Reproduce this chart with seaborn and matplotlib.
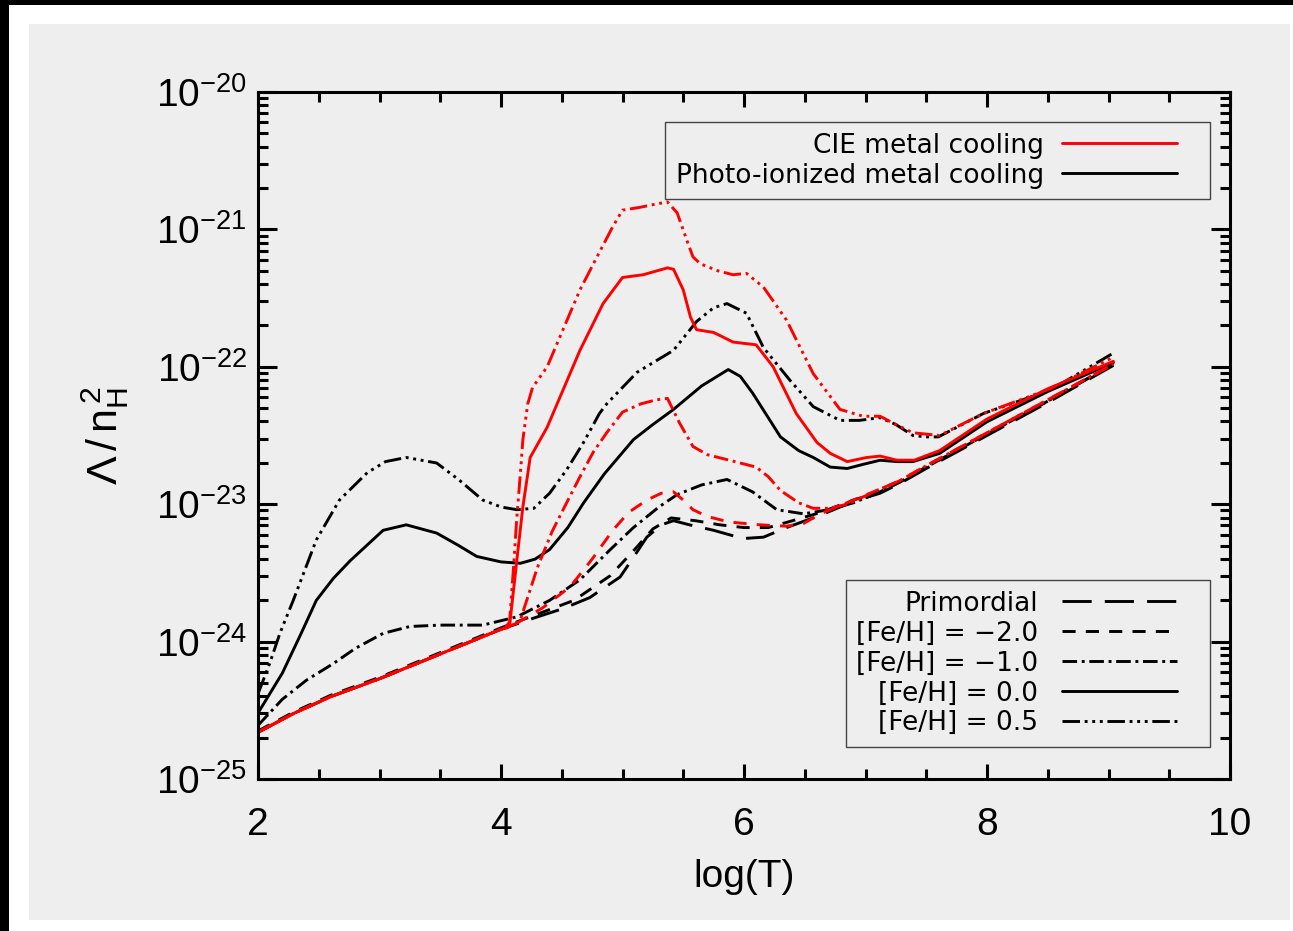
import numpy as np
import pandas as pd
import matplotlib
matplotlib.use("Agg")
import matplotlib.pyplot as plt
import seaborn as sns
from matplotlib.lines import Line2D
from matplotlib.patches import Rectangle
from matplotlib.legend_handler import HandlerLine2D
from matplotlib.ticker import LogLocator, MultipleLocator, NullFormatter, FixedLocator

# ---------------- data (log10 T, log10 Lambda/nH^2) ----------------
base_x = [2.0, 2.3, 2.6, 3.0, 3.5, 4.0]
base_y = [-24.66, -24.52, -24.40, -24.27, -24.09, -23.91]

tail_x = [7.5, 8.0, 8.5, 9.04]
tail_y = [-22.74, -22.50, -22.26, -21.99]

prim_x = base_x + [4.3, 4.51, 4.73, 4.98, 5.08, 5.20, 5.32, 5.42, 5.55, 5.75, 5.99, 6.16, 6.35, 6.63, 6.9, 7.12, 7.28] + tail_x
prim_y = base_y + [-23.82, -23.76, -23.68, -23.53, -23.40, -23.24, -23.15, -23.12, -23.15, -23.19, -23.25, -23.24, -23.17, -23.08, -22.98, -22.92, -22.85] + tail_y

pi_m20_x = base_x + [4.3, 4.6, 4.9, 5.1, 5.25, 5.4, 5.6, 5.8, 6.0, 6.2, 6.4, 6.63, 6.9, 7.12, 7.28] + tail_x
pi_m20_y = [v + 0.01 for v in base_y] + [-23.80, -23.70, -23.52, -23.33, -23.18, -23.10, -23.12, -23.15, -23.17, -23.17, -23.12, -23.06, -22.97, -22.91, -22.84] + [-22.73, -22.49, -22.25, -21.98]

cie_m20_x = base_x + [4.1, 4.18, 4.35, 4.57, 4.75, 4.92, 5.05, 5.20, 5.32, 5.42, 5.5, 5.58, 5.7, 5.88, 6.13, 6.35, 6.49, 6.63, 6.9, 7.12, 7.28] + tail_x
cie_m20_y = base_y + [-23.88, -23.84, -23.75, -23.60, -23.40, -23.19, -23.06, -22.97, -22.92, -22.91, -22.97, -23.04, -23.09, -23.13, -23.15, -23.16, -23.14, -23.07, -22.97, -22.89, -22.83] + [-22.72, -22.48, -22.24, -21.98]

pi_m10_x = [2.0, 2.2, 2.4, 2.62, 2.8, 3.03, 3.25, 3.5, 3.85, 4.13, 4.4, 4.65, 4.9, 5.09, 5.3, 5.45, 5.65, 5.86, 6.07, 6.27, 6.49, 6.7, 6.9, 7.12, 7.28] + tail_x
pi_m10_y = [-24.61, -24.42, -24.28, -24.16, -24.05, -23.94, -23.89, -23.88, -23.88, -23.82, -23.70, -23.55, -23.33, -23.17, -23.02, -22.93, -22.86, -22.82, -22.91, -23.04, -23.07, -23.04, -22.99, -22.91, -22.84] + [-22.73, -22.49, -22.25, -21.98]

cie_m10_x = base_x + [4.12, 4.16, 4.23, 4.30, 4.42, 4.54, 4.65, 4.76, 4.87, 5.0, 5.15, 5.28, 5.37, 5.47, 5.58, 5.7, 5.88, 6.1, 6.2, 6.30, 6.45, 6.57, 6.7, 6.85, 7.12, 7.28] + tail_x
cie_m10_y = base_y + [-23.87, -23.84, -23.65, -23.46, -23.20, -22.99, -22.80, -22.62, -22.48, -22.33, -22.27, -22.24, -22.23, -22.41, -22.58, -22.64, -22.68, -22.73, -22.80, -22.90, -22.99, -23.03, -23.03, -23.00, -22.89, -22.83] + [-22.72, -22.48, -22.24, -21.98]

pi_00_x = [2.0, 2.2, 2.35, 2.48, 2.62, 2.76, 3.03, 3.22, 3.47, 3.65, 3.80, 4.0, 4.16, 4.28, 4.40, 4.55, 4.68, 4.85, 5.09, 5.25, 5.42, 5.65, 5.87, 5.97, 6.07, 6.3, 6.45, 6.57, 6.71, 6.85, 6.98, 7.12, 7.26, 7.39, 7.61, 8.0, 8.5, 9.04]
pi_00_y = [-24.52, -24.23, -23.95, -23.70, -23.54, -23.41, -23.19, -23.15, -23.21, -23.30, -23.38, -23.42, -23.43, -23.40, -23.33, -23.17, -22.99, -22.78, -22.53, -22.42, -22.31, -22.14, -22.02, -22.07, -22.19, -22.51, -22.61, -22.66, -22.73, -22.74, -22.71, -22.68, -22.69, -22.69, -22.63, -22.40, -22.18, -21.97]

cie_00_x = base_x + [4.05, 4.07, 4.10, 4.13, 4.18, 4.24, 4.38, 4.51, 4.65, 4.84, 5.0, 5.17, 5.25, 5.37, 5.42, 5.5, 5.56, 5.61, 5.75, 5.91, 6.1, 6.24, 6.43, 6.6, 6.71, 6.85, 7.01, 7.12, 7.26, 7.4, 7.61, 8.0, 8.5, 9.04]
cie_00_y = base_y + [-23.90, -23.89, -23.65, -23.41, -23.02, -22.66, -22.44, -22.17, -21.88, -21.54, -21.35, -21.33, -21.31, -21.28, -21.29, -21.44, -21.64, -21.73, -21.75, -21.82, -21.84, -22.00, -22.34, -22.55, -22.63, -22.69, -22.66, -22.65, -22.68, -22.68, -22.61, -22.38, -22.16, -21.96]

pi_05_x = [2.0, 2.1, 2.18, 2.29, 2.48, 2.67, 2.9, 3.05, 3.22, 3.47, 3.65, 3.85, 4.0, 4.13, 4.27, 4.4, 4.54, 4.68, 4.81, 4.87, 5.12, 5.42, 5.61, 5.75, 5.86, 6.02, 6.16, 6.38, 6.57, 6.79, 6.95, 7.12, 7.25, 7.39, 7.5, 7.6, 7.97, 8.52, 9.04]
pi_05_y = [-24.38, -24.15, -23.94, -23.70, -23.26, -22.97, -22.77, -22.69, -22.66, -22.70, -22.82, -22.97, -23.02, -23.04, -23.03, -22.92, -22.75, -22.55, -22.34, -22.27, -22.04, -21.88, -21.67, -21.57, -21.54, -21.61, -21.86, -22.10, -22.29, -22.39, -22.39, -22.37, -22.42, -22.50, -22.51, -22.51, -22.34, -22.17, -21.90]

cie_05_x = base_x + [4.03, 4.07, 4.10, 4.13, 4.16, 4.18, 4.22, 4.26, 4.38, 4.51, 4.65, 4.79, 4.92, 5.0, 5.14, 5.25, 5.37, 5.45, 5.53, 5.58, 5.64, 5.78, 5.91, 6.02, 6.16, 6.35, 6.57, 6.79, 6.98, 7.12, 7.25, 7.39, 7.61, 7.97, 8.52, 9.04]
cie_05_y = base_y + [-23.90, -23.86, -23.50, -23.10, -22.77, -22.53, -22.27, -22.15, -22.00, -21.73, -21.44, -21.20, -20.98, -20.86, -20.84, -20.82, -20.80, -20.88, -21.08, -21.20, -21.25, -21.30, -21.33, -21.32, -21.42, -21.66, -22.05, -22.31, -22.36, -22.36, -22.42, -22.48, -22.50, -22.34, -22.16, -21.93]

models = ["Photo-ionized metal cooling", "CIE metal cooling"]
metal_labels = ["Primordial", "[Fe/H] = \u22122.0", "[Fe/H] = \u22121.0", "[Fe/H] = 0.0", "[Fe/H] = 0.5"]
y_tick_vals = [1e-25, 1e-24, 1e-23, 1e-22, 1e-21, 1e-20]
y_tick_labels = [r"$\mathregular{10^{-25}}$", r"$\mathregular{10^{-24}}$", r"$\mathregular{10^{-23}}$",
                 r"$\mathregular{10^{-22}}$", r"$\mathregular{10^{-21}}$", r"$\mathregular{10^{-20}}$"]
x_tick_vals = [2, 4, 6, 8, 10]

curves = [
    ("pi_prim", models[0], metal_labels[0], prim_x, prim_y),
    ("pi_m20", models[0], metal_labels[1], pi_m20_x, pi_m20_y),
    ("pi_m10", models[0], metal_labels[2], pi_m10_x, pi_m10_y),
    ("pi_00", models[0], metal_labels[3], pi_00_x, pi_00_y),
    ("pi_05", models[0], metal_labels[4], pi_05_x, pi_05_y),
    ("cie_m20", models[1], metal_labels[1], cie_m20_x, cie_m20_y),
    ("cie_m10", models[1], metal_labels[2], cie_m10_x, cie_m10_y),
    ("cie_00", models[1], metal_labels[3], cie_00_x, cie_00_y),
    ("cie_05", models[1], metal_labels[4], cie_05_x, cie_05_y),
]

rows = []
for name, model, metal, xs, ys in curves:
    for a, b in zip(xs, ys):
        rows.append({"curve": name, "model": model, "metal": metal, "logT": a, "cool": 10.0 ** b})
df = pd.DataFrame(rows)

# ---------------- styles ----------------
BG = "#eeeeee"
model_colors = {models[0]: "black", models[1]: "#ff0000"}
metal_dashes = {
    metal_labels[0]: (0, (10, 4.5)),
    metal_labels[1]: (0, (4.5, 3.5)),
    metal_labels[2]: (0, (5, 1.6, 1, 1.6)),
    metal_labels[3]: "-",
    metal_labels[4]: (0, (6, 1.6, 1, 1.6, 1, 1.6, 1, 1.6)),
}
LW = 2.1


class RPadHandler(HandlerLine2D):
    """Line handle that leaves some empty space on its right side."""
    def __init__(self, rpad, **kw):
        super().__init__(**kw)
        self.rpad = rpad

    def create_artists(self, legend, orig_handle, xdescent, ydescent, width, height, fontsize, trans):
        return super().create_artists(legend, orig_handle, xdescent, ydescent,
                                      width - self.rpad, height, fontsize, trans)


sns.set_theme(style="ticks")
plt.rcParams["font.family"] = ["Liberation Sans", "DejaVu Sans"]
plt.rcParams["mathtext.fontset"] = "custom"
plt.rcParams["mathtext.rm"] = "Liberation Sans"
plt.rcParams["mathtext.it"] = "Liberation Sans:italic"
plt.rcParams["mathtext.bf"] = "Liberation Sans:bold"
plt.rcParams["text.color"] = "black"
plt.rcParams["axes.labelcolor"] = "black"
plt.rcParams["legend.labelcolor"] = "black"

W, H = 1293, 931
fig = plt.figure(figsize=(W / 100, H / 100), dpi=100)
fig.patch.set_facecolor("black")
fig.add_artist(Rectangle((9 / W, 0), 1 - 9 / W, (H - 5) / H, transform=fig.transFigure,
                         facecolor="white", edgecolor="none", zorder=-2))
fig.add_artist(Rectangle((29 / W, (H - 920) / H), (1290 - 29) / W, (920 - 24) / H,
                         transform=fig.transFigure, facecolor=BG, edgecolor="none", zorder=-1))

ax = fig.add_axes([258 / W, (H - 779) / H, (1230 - 258) / W, (779 - 92) / H])
ax.set_facecolor(BG)

for model in models:
    for name, m, metal, xs, ys in curves:
        if m != model:
            continue
        sub = df[df["curve"] == name]
        sns.lineplot(data=sub, x="logT", y="cool", ax=ax, color=model_colors[model],
                     linestyle=metal_dashes[metal], linewidth=LW, estimator=None,
                     sort=False, legend=False)

ax.set_yscale("log")
ax.set_xlim(2, 10)
ax.set_ylim(1e-25, 1e-20)
ax.yaxis.set_major_locator(FixedLocator(y_tick_vals))
ax.set_yticklabels(y_tick_labels)
ax.yaxis.set_minor_locator(LogLocator(base=10, subs=np.arange(2, 10)))
ax.yaxis.set_minor_formatter(NullFormatter())
ax.xaxis.set_major_locator(FixedLocator(x_tick_vals))
ax.set_xticklabels([str(v) for v in x_tick_vals])
ax.xaxis.set_minor_locator(MultipleLocator(0.5))

ax.tick_params(axis="both", which="both", direction="in", top=True, right=True,
               colors="black", width=2.2)
ax.tick_params(axis="x", which="major", length=11, pad=20, labelsize=28)
ax.tick_params(axis="y", which="major", length=14, pad=8, labelsize=28)
ax.tick_params(axis="both", which="minor", length=7)
for s in ax.spines.values():
    s.set_linewidth(2.2)
    s.set_color("black")

ax.set_xlabel("log(T)", fontsize=28, labelpad=12, color="black")
ax.set_ylabel(r"$\mathregular{\Lambda\,/\,n_H^{\,2}}$", fontsize=31, labelpad=18, color="black")

# legends
leg_kw = dict(prop={"family": "DejaVu Sans", "size": 19}, markerfirst=False, handlelength=5.2,
              labelspacing=0.15, borderpad=0.4, borderaxespad=0, fancybox=False, framealpha=1,
              facecolor=BG, edgecolor="#444444", labelcolor="black")

h1 = [Line2D([], [], color=model_colors[models[1]], lw=LW),
      Line2D([], [], color=model_colors[models[0]], lw=LW)]
leg1 = ax.legend(h1, [models[1], models[0]], loc="upper right",
                 bbox_to_anchor=((1210 - 258) / 972, (779 - 122) / 687),
                 handletextpad=0.7, handler_map={h: RPadHandler(16) for h in h1}, **leg_kw)
leg1.get_frame().set_linewidth(1.0)
ax.add_artist(leg1)

h2 = [Line2D([], [], color="black", lw=LW, linestyle=metal_dashes[m]) for m in metal_labels]
leg2 = ax.legend(h2, metal_labels, loc="lower right",
                 bbox_to_anchor=((1210 - 258) / 972, (779 - 747) / 687),
                 handletextpad=0.9, handler_map={h: RPadHandler(16) for h in h2}, **leg_kw)
leg2.get_frame().set_linewidth(1.0)

fig.savefig("out.png", dpi=100, facecolor=fig.get_facecolor())
